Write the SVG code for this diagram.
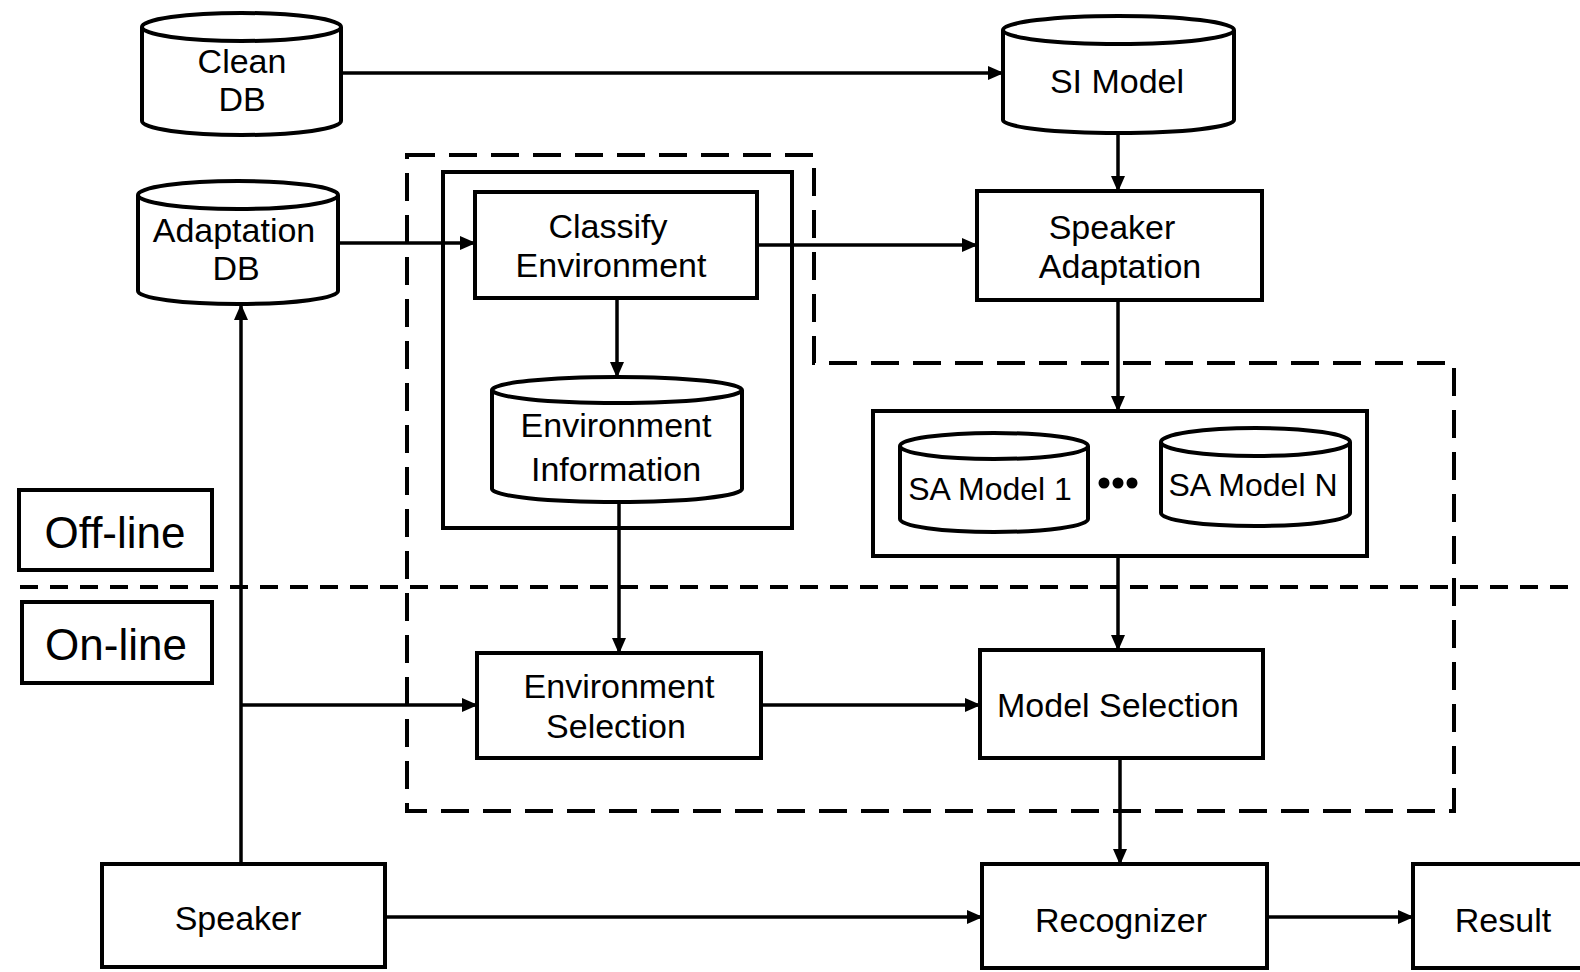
<svg xmlns="http://www.w3.org/2000/svg" width="1580" height="972" viewBox="0 0 1580 972">
<style>
.box{fill:#fff;stroke:#000;stroke-width:4}
.cyl{fill:#fff;stroke:#000;stroke-width:4}
.t{font-family:"Liberation Sans",Arial,sans-serif;font-size:34px;fill:#000;text-anchor:middle}
.big{font-family:"Liberation Sans",Arial,sans-serif;font-size:44px;fill:#000;text-anchor:middle}
.c{fill:none;stroke:#000;stroke-width:3.5}
.dash{fill:none;stroke:#000;stroke-width:4;stroke-dasharray:28 14}
.dash2{fill:none;stroke:#000;stroke-width:4;stroke-dasharray:18 12}
</style>
<defs>
<marker id="ah" markerUnits="userSpaceOnUse" markerWidth="16" markerHeight="14" refX="15" refY="7" orient="auto">
<path d="M0,0 L16,7 L0,14 Z" fill="#000"/>
</marker>
</defs>
<rect width="1580" height="972" fill="#fff"/>

<g id="regions">
<path class="dash" d="M407,155 H814 V363 H1454 V811 H407 Z"/>
<path class="dash2" d="M20,587 H1580"/>
<rect class="box" x="443" y="172" width="349" height="356"/>
<rect class="box" x="873" y="411" width="494" height="145"/>
</g>

<g id="connectors">
<path class="c" d="M341,73 H1003" marker-end="url(#ah)"/>
<path class="c" d="M1118,133 V191" marker-end="url(#ah)"/>
<path class="c" d="M338,243 H475" marker-end="url(#ah)"/>
<path class="c" d="M757,245 H977" marker-end="url(#ah)"/>
<path class="c" d="M617,298 V377" marker-end="url(#ah)"/>
<path class="c" d="M1118,300 V411" marker-end="url(#ah)"/>
<path class="c" d="M619,502 V653" marker-end="url(#ah)"/>
<path class="c" d="M1118,556 V650" marker-end="url(#ah)"/>
<path class="c" d="M761,705 H980" marker-end="url(#ah)"/>
<path class="c" d="M1120,758 V864" marker-end="url(#ah)"/>
<path class="c" d="M241,864 V305" marker-end="url(#ah)"/>
<path class="c" d="M241,705 H477" marker-end="url(#ah)"/>
<path class="c" d="M385,917 H982" marker-end="url(#ah)"/>
<path class="c" d="M1267,917 H1413" marker-end="url(#ah)"/>
</g>

<g id="clean-db">
<path class="cyl" d="M142,27 V121 A99.5,14 0 0 0 341,121 V27 A99.5,14 0 0 0 142,27 Z"/>
<path class="cyl" d="M142,27 A99.5,14 0 0 0 341,27"/>
<text class="t" x="242" y="73">Clean</text>
<text class="t" x="242" y="111">DB</text>
</g>

<g id="si-model">
<path class="cyl" d="M1003,30 V120 A115.5,13 0 0 0 1234,120 V30 A115.5,14 0 0 0 1003,30 Z"/>
<path class="cyl" d="M1003,30 A115.5,14 0 0 0 1234,30"/>
<text class="t" x="1117" y="93">SI Model</text>
</g>

<g id="adaptation-db">
<path class="cyl" d="M138,195 V291 A100,13 0 0 0 338,291 V195 A100,14 0 0 0 138,195 Z"/>
<path class="cyl" d="M138,195 A100,14 0 0 0 338,195"/>
<text class="t" x="234" y="242">Adaptation</text>
<text class="t" x="236" y="280">DB</text>
</g>

<g id="classify-environment">
<rect class="box" x="475" y="192" width="282" height="106"/>
<text class="t" x="608" y="238">Classify</text>
<text class="t" x="611" y="277">Environment</text>
</g>

<g id="environment-information">
<path class="cyl" d="M492,390 V489 A125,13 0 0 0 742,489 V390 A125,13 0 0 0 492,390 Z"/>
<path class="cyl" d="M492,390 A125,13 0 0 0 742,390"/>
<text class="t" x="616" y="437">Environment</text>
<text class="t" x="616" y="481">Information</text>
</g>

<g id="speaker-adaptation">
<rect class="box" x="977" y="191" width="285" height="109"/>
<text class="t" x="1112" y="239">Speaker</text>
<text class="t" x="1120" y="278">Adaptation</text>
</g>

<g id="sa-model-1">
<path class="cyl" d="M900,446 V519 A94,13 0 0 0 1088,519 V446 A94,13 0 0 0 900,446 Z"/>
<path class="cyl" d="M900,446 A94,13 0 0 0 1088,446"/>
<text class="t" x="990" y="500" style="font-size:32px">SA Model 1</text>
</g>

<g id="dots">
<circle cx="1104" cy="483" r="5.5"/>
<circle cx="1118" cy="483" r="5.5"/>
<circle cx="1132" cy="483" r="5.5"/>
</g>

<g id="sa-model-n">
<path class="cyl" d="M1161,442 V513 A94.5,13 0 0 0 1350,513 V442 A94.5,14 0 0 0 1161,442 Z"/>
<path class="cyl" d="M1161,442 A94.5,14 0 0 0 1350,442"/>
<text class="t" x="1253" y="496" style="font-size:32px">SA Model N</text>
</g>

<g id="off-line">
<rect class="box" x="19" y="490" width="193" height="80"/>
<text class="big" x="115" y="548">Off-line</text>
</g>

<g id="on-line">
<rect class="box" x="22" y="602" width="190" height="81"/>
<text class="big" x="116" y="660">On-line</text>
</g>

<g id="environment-selection">
<rect class="box" x="477" y="653" width="284" height="105"/>
<text class="t" x="619" y="698">Environment</text>
<text class="t" x="616" y="738">Selection</text>
</g>

<g id="model-selection">
<rect class="box" x="980" y="650" width="283" height="108"/>
<text class="t" x="1118" y="717">Model Selection</text>
</g>

<g id="speaker">
<rect class="box" x="102" y="864" width="283" height="103"/>
<text class="t" x="238" y="930">Speaker</text>
</g>

<g id="recognizer">
<rect class="box" x="982" y="864" width="285" height="104"/>
<text class="t" x="1121" y="932">Recognizer</text>
</g>

<g id="result">
<rect class="box" x="1413" y="864" width="190" height="104"/>
<text class="t" x="1503" y="932">Result</text>
</g>
</svg>
